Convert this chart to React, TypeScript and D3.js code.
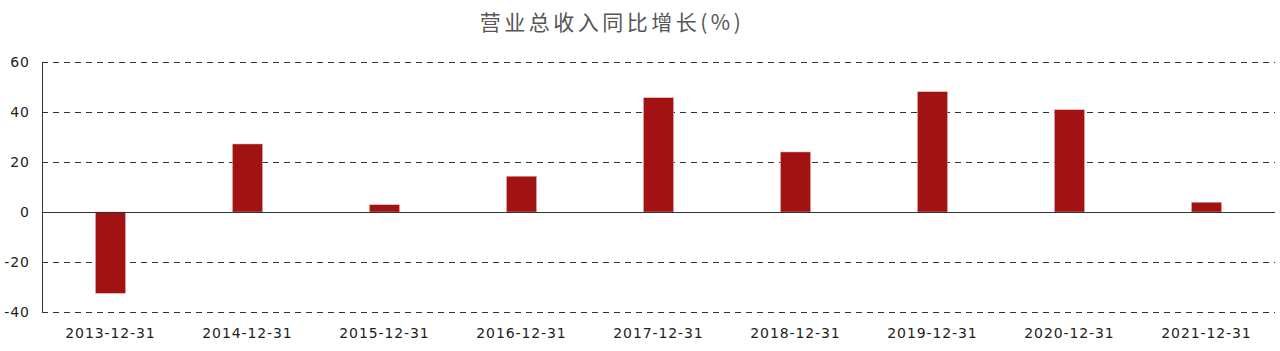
import React from "react";
import * as d3 from "d3";

const categories = ["2013-12-31","2014-12-31","2015-12-31","2016-12-31","2017-12-31","2018-12-31","2019-12-31","2020-12-31","2021-12-31"];
const values = [-32.5, 27.2, 2.9, 14.3, 45.7, 24.0, 48.1, 40.9, 3.9];
const yTicks = [-40, -20, 0, 20, 40, 60];
const title = "营业总收入同比增长(%)";

export default function App() {
  const W = 1280, H = 351;
  const left = 42, right = 1275, top = 62, bottom = 312;
  const x = d3.scaleBand<string>().domain(categories).range([left, right]).paddingInner(0).paddingOuter(0);
  const y = d3.scaleLinear().domain([-40, 60]).range([bottom, top]);
  const bw = 30;
  const font = "'DejaVu Sans', sans-serif";
  return (
    <svg width={W} height={H} style={{ position: "absolute", left: 0, top: 0, background: "#fff" }}>
      <text x={612} y={30} textAnchor="middle" fontFamily="'Noto Sans CJK SC', sans-serif" fontSize={21} letterSpacing={3.5} fill="#555">{title}</text>
      {yTicks.map(t => (
        <g key={t}>
          {t !== 0 && (
            <line x1={left} x2={right} y1={Math.round(y(t)) + 0.5} y2={Math.round(y(t)) + 0.5} stroke="#333" strokeDasharray="6,5" />
          )}
          <text x={30} y={y(t)} dy="0.35em" textAnchor="end" fontFamily={font} fontSize={14} letterSpacing={1} fill="#222">{t}</text>
        </g>
      ))}
      {categories.map((c, i) => {
        const v = values[i];
        const cx = (x(c) as number) + x.bandwidth() / 2;
        const y0 = y(0), y1 = y(v);
        return (
          <rect key={c} x={cx - bw / 2} y={Math.min(y0, y1)} width={bw} height={Math.abs(y1 - y0)} fill="#A11212" stroke="#e9b0b0" strokeWidth={0.5} />
        );
      })}
      <line x1={left} x2={right} y1={Math.round(y(0)) + 0.5} y2={Math.round(y(0)) + 0.5} stroke="#333" />
      <line x1={left + 0.5} x2={left + 0.5} y1={top} y2={bottom + 1} stroke="#333" />
      {categories.map(c => (
        <text key={c} x={(x(c) as number) + x.bandwidth() / 2} y={333} dy="0.35em" textAnchor="middle" fontFamily={font} fontSize={14} letterSpacing={0.9} fill="#222">{c}</text>
      ))}
    </svg>
  );
}
